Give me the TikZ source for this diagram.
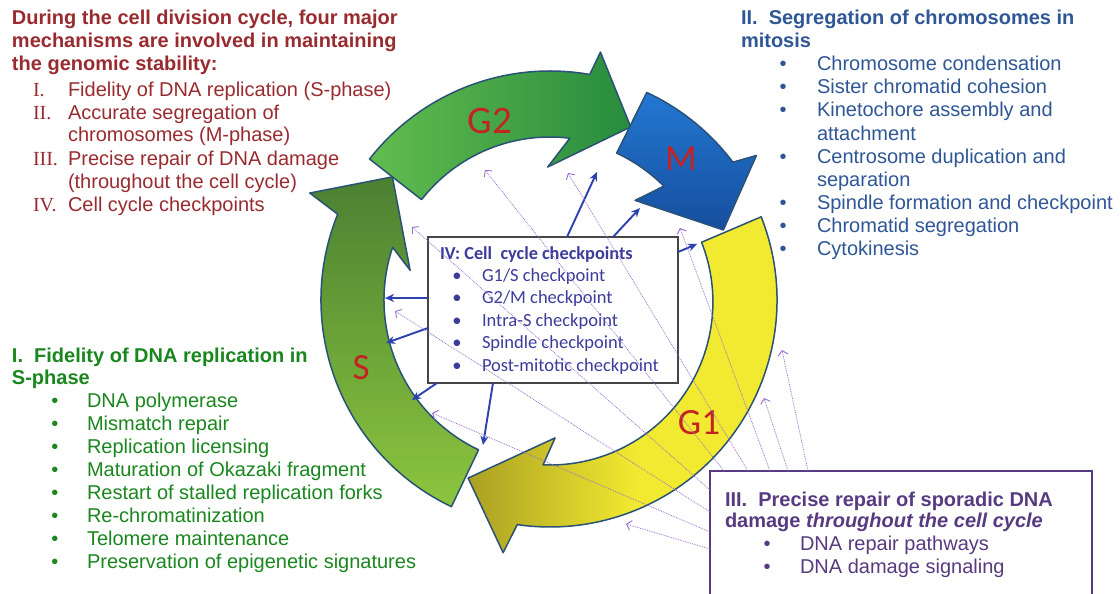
\documentclass[tikz,border=0pt]{standalone}
\usepackage{fontspec}
\setmainfont{Liberation Sans}
\newfontfamily\serifnum{Liberation Serif}
\newfontfamily\calib{Carlito}
\usetikzlibrary{arrows.meta,calc}

\definecolor{headred}{RGB}{153,43,48}
\definecolor{segblue}{RGB}{47,87,150}
\definecolor{repgreen}{RGB}{25,135,30}
\definecolor{dmgpurple}{RGB}{88,58,128}
\definecolor{chkblue}{RGB}{60,60,155}
\definecolor{phasered}{RGB}{195,35,35}
\definecolor{ringedge}{RGB}{42,82,118}
\definecolor{arrowblue}{RGB}{45,65,175}
\definecolor{dotpurple}{RGB}{150,110,205}
\definecolor{boxgray}{RGB}{70,70,70}
\definecolor{sdark}{RGB}{75,128,50}
\definecolor{slight}{RGB}{140,198,62}
\definecolor{gtwolight}{RGB}{98,188,78}
\definecolor{gtwodark}{RGB}{40,140,62}
\definecolor{mlight}{RGB}{35,120,210}
\definecolor{mdark}{RGB}{22,78,158}
\definecolor{gonedark}{RGB}{170,160,35}
\definecolor{goneyellow}{RGB}{242,234,48}

\begin{document}
\begin{tikzpicture}[x=1pt,y=-1pt,
  every node/.style={inner sep=0pt, outer sep=0pt},
  txt/.style={anchor=base west, font=\fontsize{20}{23}\selectfont},
  hd/.style={anchor=base west, font=\bfseries\fontsize{20}{23}\selectfont},
  num/.style={anchor=base west, font=\serifnum\fontsize{20}{23}\selectfont},
  bul/.style={anchor=base, font=\fontsize{20}{23}\selectfont},
  chktxt/.style={anchor=base west, text=chkblue, font=\calib\fontsize{18.5}{22}\selectfont},
  phase/.style={text=phasered, font=\calib\fontsize{37}{37}\selectfont},
  ring/.style={draw=ringedge, line width=1.5pt, line join=round},
  chk/.style={draw=arrowblue, line width=1.9pt, -{Stealth[length=9pt,width=8pt]}},
  dmg/.style={draw=dotpurple, line width=0.8pt, densely dotted,
    -{Straight Barb[length=4.5pt,width=10pt,line width=0.9pt]}},
]
\useasboundingbox (0,0) rectangle (1120,594);
\clip (0,0) rectangle (1120,594);
\fill[white] (0,0) rectangle (1120,594);

% ---- the four phase arrows of the cycle ----
\begin{scope}[shift={(550,300)}]
  % S
  \shadedraw[ring, top color=sdark, bottom color=slight]
    (115.5:229) arc[start angle=115.5, end angle=202, radius=229]
    -- (204:263) -- (218:200) -- (192:143) -- (198.5:166)
    arc[start angle=198.5, end angle=115.5, radius=166] -- cycle;
  % G2
  \shadedraw[ring, left color=gtwolight, right color=gtwodark]
    (218:229) arc[start angle=218, end angle=280, radius=229]
    -- (281.5:253) -- (295:191) -- (269:133) -- (277:163)
    arc[start angle=277, end angle=218, radius=163] -- cycle;
  % M
  \shadedraw[ring, top color=mlight, bottom color=mdark]
    (295:229) arc[start angle=295, end angle=323, radius=229]
    -- (325:252) -- (338:187) -- (310.5:131) -- (315:161)
    arc[start angle=315, end angle=295, radius=166] -- cycle;
  % G1
  \shadedraw[ring, left color=gonedark, right color=goneyellow, middle color=goneyellow]
    (338.5:227) arc[start angle=338.5, end angle=458.3, radius=227]
    -- (460.5:257) -- (474.7:196) -- (447.9:138) -- (452.4:165)
    arc[start angle=452.4, end angle=338.5, radius=163] -- cycle;
\end{scope}

\node[phase, font=\calib\fontsize{39}{39}\selectfont] (lgtwo) at (490,121) {G2};
\node[phase] (lm) at (681,159) {M};
\node[phase] (ls) at (361,368) {S};
\node[phase] (lgone) at (699,423) {G1};

% ---- checkpoint box ----
\node[draw=boxgray, line width=1.6pt, minimum width=250pt, minimum height=146pt] (cp) at (553,310) {};
\node[chktxt, font=\calib\bfseries\fontsize{18.3}{22}\selectfont] (cpt) at (440,259) {IV: Cell\ \ cycle checkpoints};
\foreach \t [count=\i] in {G1/S checkpoint, G2/M checkpoint, Intra-S checkpoint, Spindle checkpoint, Post-mitotic checkpoint}{
  \node[chktxt, anchor=base] (cpb\i) at (457,{281+22.5*(\i-1)}) {•};
  \node[chktxt] (cpi\i) at (482,{281+22.5*(\i-1)}) {\t};
}

% ring end points reached by the checkpoint arrows
\coordinate (eone) at (597,172);
\coordinate (etwo) at (640,208);
\coordinate (ethree) at (697,244);
\coordinate (efour) at (385,298);
\coordinate (efive) at (386,343);
\coordinate (esix) at (412,400);
\coordinate (eseven) at (483,445);
\draw[chk] ($(cp.north west)+(139,0)$) -- (eone);
\draw[chk] ($(cp.north west)+(185,0)$) -- (etwo);
\draw[chk] ($(cp.north east)+(0,15)$) -- (ethree);
\draw[chk] ($(cp.north west)+(0,61)$) -- (efour);
\draw[chk] ($(cp.north west)+(0,91)$) -- (efive);
\draw[chk] ($(cp.south west)+(9,0)$) -- (esix);
\draw[chk] ($(cp.south west)+(65,0)$) -- (eseven);

% ---- DNA repair box ----
\node[draw=dmgpurple, line width=1.8pt, minimum width=382pt, minimum height=160pt] (rp) at (901,551) {};

% targets of the DNA damage links
\coordinate (ta) at (485,170);
\coordinate (tb) at (568,173);
\coordinate (tc) at (412,227);
\coordinate (td) at (680,228);
\coordinate (te) at (395,311);
\coordinate (tf) at (432,413);
\coordinate (tg) at (782,350);
\coordinate (th) at (764,398);
\coordinate (ti) at (626,524);
\draw[dmg] ($(rp.north west)+(14,0)$) -- (ta);
\draw[dmg] ($(rp.north west)+(38,0)$) -- (tb);
\draw[dmg] ($(rp.north west)+(60,0)$) -- (td);
\draw[dmg] ($(rp.north west)+(78,0)$) -- (th);
\draw[dmg] ($(rp.north west)+(98,0)$) -- (tg);
\draw[dmg] ($(rp.north west)+(0,19)$) -- (tc);
\draw[dmg] ($(rp.north west)+(0,41)$) -- (te);
\draw[dmg] ($(rp.north west)+(0,61)$) -- (tf);
\draw[dmg] ($(rp.north west)+(0,78)$) -- (ti);

\begin{scope}[text=dmgpurple]
  \node[hd] (rph1) at (725,506) {III.\ \ Precise repair of sporadic DNA};
  \node[hd] (rph2) at (725,527) {damage \textit{throughout the cell cycle}};
  \node[bul] (rpb1) at (767,550) {•};
  \node[txt] (rpi1) at (800,550) {DNA repair pathways};
  \node[bul] (rpb2) at (767,573) {•};
  \node[txt] (rpi2) at (800,573) {DNA damage signaling};
\end{scope}

% ---- overview, top left ----
\begin{scope}[text=headred]
  \node[hd] (ov1) at (12,25) {During the cell division cycle, four major};
  \node[hd] (ov2) at (12,48) {mechanisms are involved in maintaining};
  \node[hd] (ov3) at (12,71) {the genomic stability:};
  \node[num] (nI) at (33,96) {I.};
  \node[txt] (oi1) at (68,96) {Fidelity of DNA replication (S-phase)};
  \node[num] (nII) at (33,119) {II.};
  \node[txt] (oi2) at (68,119) {Accurate segregation of};
  \node[txt] (oi2b) at (68,142) {chromosomes (M-phase)};
  \node[num] (nIII) at (33,165) {III.};
  \node[txt] (oi3) at (68,165) {Precise repair of DNA damage};
  \node[txt] (oi3b) at (68,188) {(throughout the cell cycle)};
  \node[num] (nIV) at (33,211) {IV.};
  \node[txt] (oi4) at (68,211) {Cell cycle checkpoints};
\end{scope}

% ---- mitosis, top right ----
\begin{scope}[text=segblue]
  \node[hd] (sg1) at (741,25) {II.\ \ Segregation of chromosomes in};
  \node[hd] (sg2) at (741,48) {mitosis};
  \foreach \yy in {71,94,117,163,209,232,255}{
    \node[bul] (sgb\yy) at (783,\yy) {•};
  }
  \node[txt] (si1) at (817,71) {Chromosome condensation};
  \node[txt] (si2) at (817,94) {Sister chromatid cohesion};
  \node[txt] (si3) at (817,117) {Kinetochore assembly and};
  \node[txt] (si3b) at (817,140) {attachment};
  \node[txt] (si4) at (817,163) {Centrosome duplication and};
  \node[txt] (si4b) at (817,186) {separation};
  \node[txt] (si5) at (817,209) {Spindle formation and checkpoint};
  \node[txt] (si6) at (817,232) {Chromatid segregation};
  \node[txt] (si7) at (817,255) {Cytokinesis};
\end{scope}

% ---- replication, left ----
\begin{scope}[text=repgreen]
  \node[hd] (fr1) at (12,362) {I.\ \ Fidelity of DNA replication in};
  \node[hd] (fr2) at (12,384) {S-phase};
  \foreach \t [count=\i] in {DNA polymerase, Mismatch repair, Replication licensing,
      Maturation of Okazaki fragment, Restart of stalled replication forks,
      Re-chromatinization, Telomere maintenance, Preservation of epigenetic signatures}{
    \node[bul] (frb\i) at (55,{407+23*(\i-1)}) {•};
    \node[txt] (fri\i) at (87,{407+23*(\i-1)}) {\t};
  }
\end{scope}
\end{tikzpicture}
\end{document}
